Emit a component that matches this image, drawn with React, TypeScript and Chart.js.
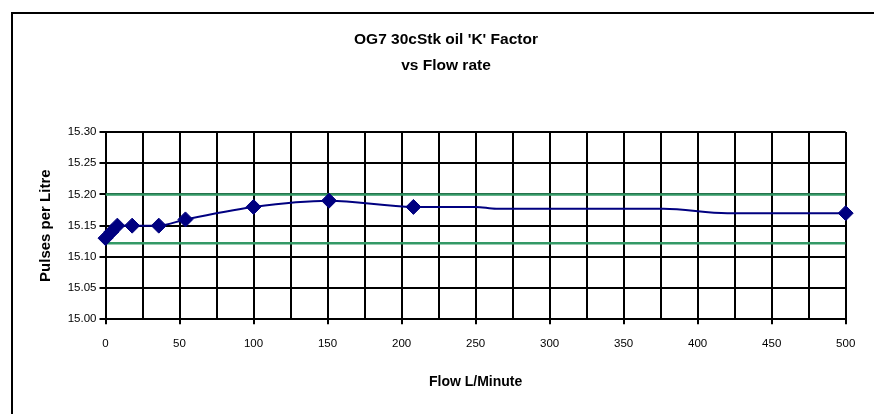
import React, { useEffect, useRef } from "react";
import { Chart, registerables } from "chart.js";

Chart.register(...registerables);

// Measured points (markers)
const flowRates = [0, 4, 8, 18, 36, 54, 100, 151, 208, 500];
const kFactors = [15.13, 15.14, 15.15, 15.15, 15.15, 15.16, 15.18, 15.19, 15.18, 15.17];
// Extra points of the drawn curve (no markers)
const curveFlow = [250, 264, 377, 420];
const curveK = [15.18, 15.177, 15.177, 15.17];
// Tolerance band lines
const bandUpper = 15.2;
const bandLower = 15.122;
const bandFlow = [0, 500];

const titleLines = ["OG7 30cStk oil 'K' Factor", "vs Flow rate"];
const xTitle = "Flow L/Minute";
const yTitle = "Pulses per Litre";

const FONT = '"Liberation Sans", Arial, sans-serif';

const titlePlugin = {
  id: "customTitle",
  afterDraw(chart: any) {
    const ctx = chart.ctx;
    ctx.save();
    ctx.fillStyle = "#000";
    ctx.font = `bold 15.5px ${FONT}`;
    ctx.textAlign = "center";
    ctx.textBaseline = "alphabetic";
    ctx.fillText(titleLines[0], 446, 43.5);
    ctx.fillText(titleLines[1], 446, 69.5);
    ctx.restore();
  },
};

export default function App() {
  const ref = useRef<HTMLCanvasElement | null>(null);

  useEffect(() => {
    if (!ref.current) return;
    const measured = flowRates.map((x, i) => ({ x, y: kFactors[i] }));
    const curve = [
      ...measured,
      ...curveFlow.map((x, i) => ({ x, y: curveK[i] })),
    ].sort((a, b) => a.x - b.x);

    const chart = new Chart(ref.current, {
      type: "line",
      data: {
        datasets: [
          {
            label: "markers",
            data: measured,
            showLine: false,
            pointStyle: "rectRot",
            pointRadius: 7.5,
            pointBackgroundColor: "#000080",
            pointBorderColor: "#000080",
            pointBorderWidth: 1,
            order: 0,
            clip: false,
          },
          {
            label: "curve",
            data: curve,
            borderColor: "#000080",
            borderWidth: 2,
            pointRadius: 0,
            cubicInterpolationMode: "monotone",
            fill: false,
            order: 1,
          },
          {
            label: "upper",
            data: bandFlow.map((x) => ({ x, y: bandUpper })),
            borderColor: "#339966",
            borderWidth: 2.5,
            pointRadius: 0,
            fill: false,
            order: 2,
          },
          {
            label: "lower",
            data: bandFlow.map((x) => ({ x, y: bandLower })),
            borderColor: "#339966",
            borderWidth: 2.5,
            pointRadius: 0,
            fill: false,
            order: 2,
          },
        ],
      },
      options: {
        responsive: false,
        animation: false,
        layout: { padding: { top: 132, right: 28.3, bottom: 0, left: 0 } },
        plugins: {
          legend: { display: false },
          tooltip: { enabled: false },
          title: { display: false },
        },
        scales: {
          x: {
            type: "linear",
            min: 0,
            max: 500,
            border: { display: true, color: "#000", width: 2 },
            grid: {
              color: "#000",
              lineWidth: 2,
              drawTicks: true,
              tickLength: 5,
              tickColor: (c: any) =>
                c.tick && c.tick.value % 50 === 0 ? "#000" : "rgba(0,0,0,0)",
              tickWidth: 2,
            },
            ticks: {
              stepSize: 25,
              autoSkip: false,
              maxRotation: 0,
              padding: 13,
              color: "#000",
              font: { family: FONT, size: 11.5 },
              callback: (v: any) => (Number(v) % 50 === 0 ? String(v) : ""),
            },
            title: {
              display: true,
              text: xTitle,
              color: "#000",
              font: { family: FONT, size: 14, weight: "bold" },
              padding: { top: 0, bottom: 23 },
            },
            afterFit: (s: any) => {
              s.height = 94.7;
            },
          },
          y: {
            type: "linear",
            min: 15.0,
            max: 15.3,
            border: { display: true, color: "#000", width: 2 },
            grid: {
              color: "#000",
              lineWidth: 2,
              drawTicks: true,
              tickLength: 6,
              tickColor: "#000",
              tickWidth: 2,
            },
            ticks: {
              stepSize: 0.05,
              padding: 3,
              color: "#000",
              font: { family: FONT, size: 11.5 },
              callback: (v: any) => Number(v).toFixed(2),
            },
            title: {
              display: true,
              text: yTitle,
              color: "#000",
              font: { family: FONT, size: 15, weight: "bold" },
              padding: { top: 37, bottom: 0 },
            },
            afterFit: (s: any) => {
              s.width = 105.5;
            },
          },
        },
      },
      plugins: [titlePlugin],
    });
    return () => chart.destroy();
  }, []);

  return (
    <div
      style={{
        position: "fixed",
        left: 0,
        top: 0,
        width: 874,
        height: 414,
        overflow: "hidden",
        background: "#fff",
      }}
    >
      <div
        style={{
          position: "absolute",
          left: 11,
          top: 12,
          width: 1000,
          height: 1000,
          borderLeft: "2px solid #000",
          borderTop: "2px solid #000",
        }}
      />
      <canvas
        ref={ref}
        width={874}
        height={414}
        style={{ position: "absolute", left: 0, top: 0, width: 874, height: 414 }}
      />
    </div>
  );
}
